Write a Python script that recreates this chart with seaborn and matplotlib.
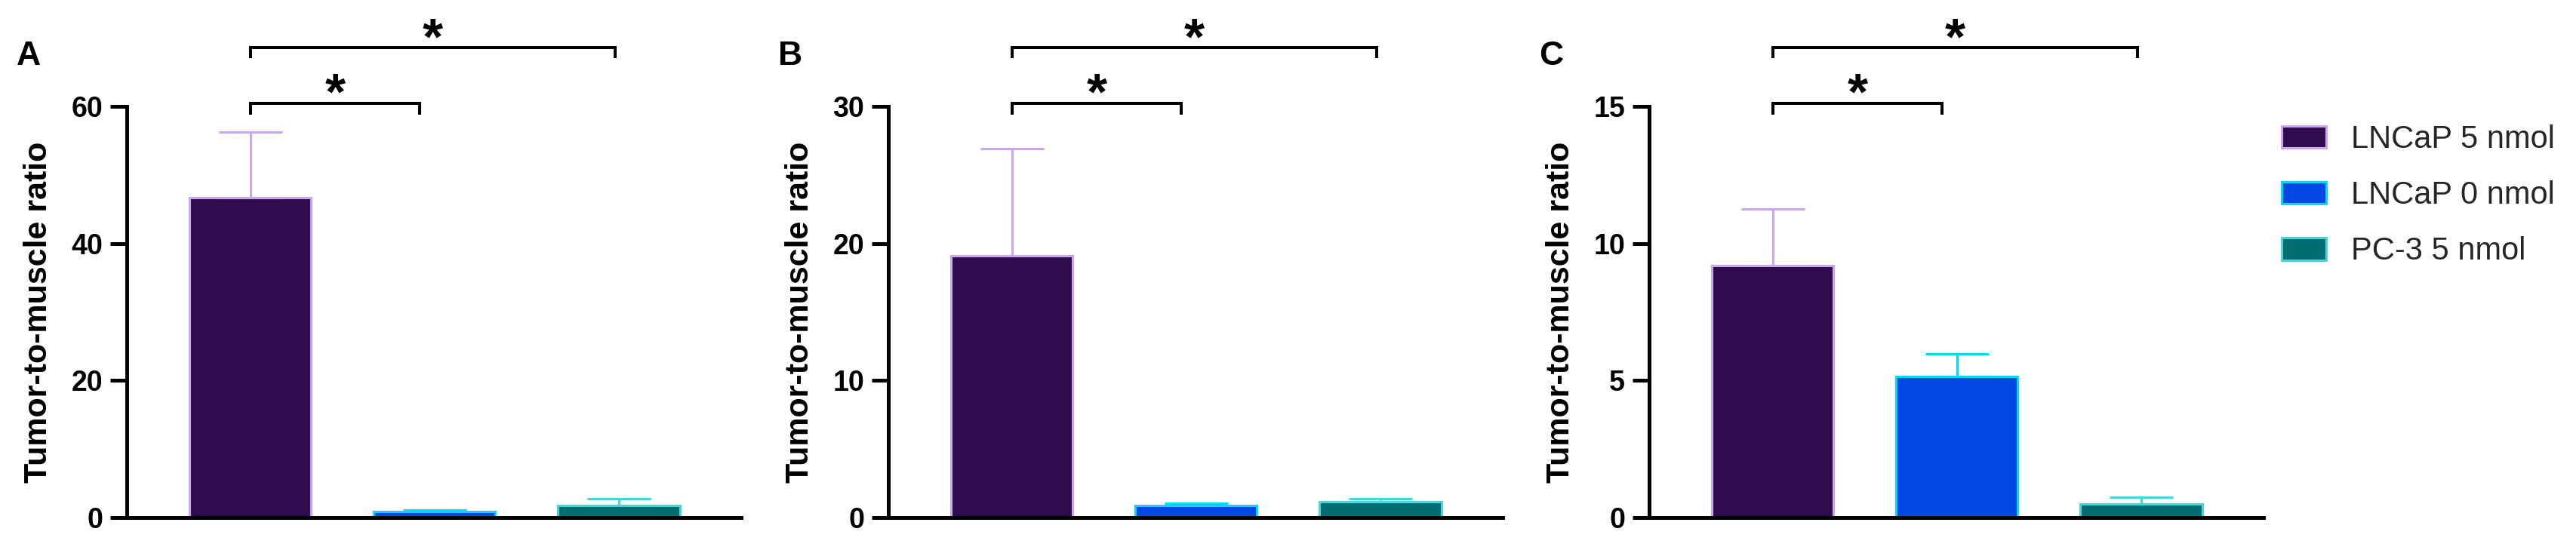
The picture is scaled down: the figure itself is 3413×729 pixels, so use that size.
import numpy as np
import pandas as pd
import matplotlib
matplotlib.use("Agg")
import matplotlib.pyplot as plt
import seaborn as sns
from matplotlib.patches import Patch
from matplotlib.transforms import blended_transform_factory

# ---------------- data ----------------
groups = ["LNCaP 5 nmol", "LNCaP 0 nmol", "PC-3 5 nmol"]
panel_labels = ["A", "B", "C"]

mean_a = [46.7, 0.85, 1.75]
err_a = [9.6, 0.2, 1.05]
mean_b = [19.1, 0.9, 1.17]
err_b = [7.8, 0.12, 0.18]
mean_c = [9.2, 5.15, 0.49]
err_c = [2.05, 0.83, 0.26]

y_max = [60, 30, 15]
y_ticks_a = [0, 20, 40, 60]
y_ticks_b = [0, 10, 20, 30]
y_ticks_c = [0, 5, 10, 15]

comparisons = [(0, 1), (0, 2)]
sig_marks = ["*", "*"]
y_label = "Tumor-to-muscle ratio"

# ---------------- style ----------------
fills = ["#2E0C4E", "#0047E6", "#006D72"]
edges = ["#C8A7EC", "#00D8F5", "#4CD3D6"]

sns.set_theme(style="ticks")
plt.rcParams["font.family"] = ["Liberation Sans", "DejaVu Sans"]

W, H = 3413, 729
fig = plt.figure(figsize=(W / 100, H / 100), dpi=100)

spine_x = [168, 1177, 2185]
letter_x = [38, 1047, 2055]
ax_w_px = 814
ax_bottom_px = 686
ax_top_px = 141

panels = [
    (mean_a, err_a, y_ticks_a),
    (mean_b, err_b, y_ticks_b),
    (mean_c, err_c, y_ticks_c),
]

for k, (means, errs, yt) in enumerate(panels):
    ax = fig.add_axes([spine_x[k] / W, (H - ax_bottom_px) / H,
                       ax_w_px / W, (ax_bottom_px - ax_top_px) / H])
    df = pd.DataFrame({"group": groups, "value": means})
    sns.barplot(data=df, x="group", y="value", hue="group", hue_order=groups,
                order=groups, palette=fills, width=0.66, errorbar=None,
                legend=False, ax=ax, linewidth=2.2, saturation=1)
    bars = sorted(ax.patches, key=lambda p: p.get_x())
    for p, ec in zip(bars, edges):
        p.set_edgecolor(ec)
        p.set_linewidth(2.2)
    for i in range(len(groups)):
        ax.errorbar(i, means[i], yerr=[[0], [errs[i]]], fmt="none",
                    ecolor=edges[i], elinewidth=2.2, capsize=30,
                    capthick=2.2, zorder=3)
    ax.set_xlim(-0.672, 2.664)
    ax.set_ylim(0, y_max[k])
    ax.set_yticks(yt)
    ax.set_yticklabels([str(t) for t in yt], fontsize=27, fontweight="bold")
    sns.despine(ax=ax)
    for s in ["left", "bottom"]:
        ax.spines[s].set_linewidth(3.6)
        ax.spines[s].set_color("black")
    ax.tick_params(axis="y", length=16, width=3.6, pad=7, colors="black")
    ax.tick_params(axis="x", length=0, labelbottom=False)
    ax.set_xlabel("")
    ax.set_ylabel(y_label, fontsize=31, fontweight="bold", color="black")
    ax.yaxis.set_label_coords(-117 / ax_w_px, 0.5)
    ax.yaxis.label.set_verticalalignment("center")

    trans = blended_transform_factory(ax.transData, ax.transAxes)
    levels = [(1.007, 0.980, 0.994), (1.143, 1.117, 1.128)]
    ends = [0.92, 1.98]
    for (g0, g1), (yl, yb, ys), xe, mark in zip(comparisons, levels, ends, sig_marks):
        x0 = g0
        x1 = xe
        ax.plot([x0, x0, x1, x1], [yb, yl, yl, yb], transform=trans,
                color="black", lw=2.9, clip_on=False,
                solid_joinstyle="miter", solid_capstyle="butt")
        ax.text((x0 + x1) / 2, ys, mark, transform=trans, ha="center",
                va="baseline", fontsize=50, fontweight="bold", color="black")

    fig.text(letter_x[k] / W, 1 - 74 / H, panel_labels[k], ha="center",
             va="center", fontsize=32, fontweight="bold", color="black")

handles = [Patch(facecolor=f, edgecolor=e, linewidth=2.2, label=g)
           for f, e, g in zip(fills, edges, groups)]
fig.legend(handles=handles, loc="upper left",
           bbox_to_anchor=(3023 / W, 1 - 165 / H), frameon=False,
           fontsize=30, handlelength=1.41, handleheight=0.72,
           handletextpad=0.79, labelspacing=0.82, borderpad=0,
           borderaxespad=0)

fig.savefig("out.png", dpi=100)
